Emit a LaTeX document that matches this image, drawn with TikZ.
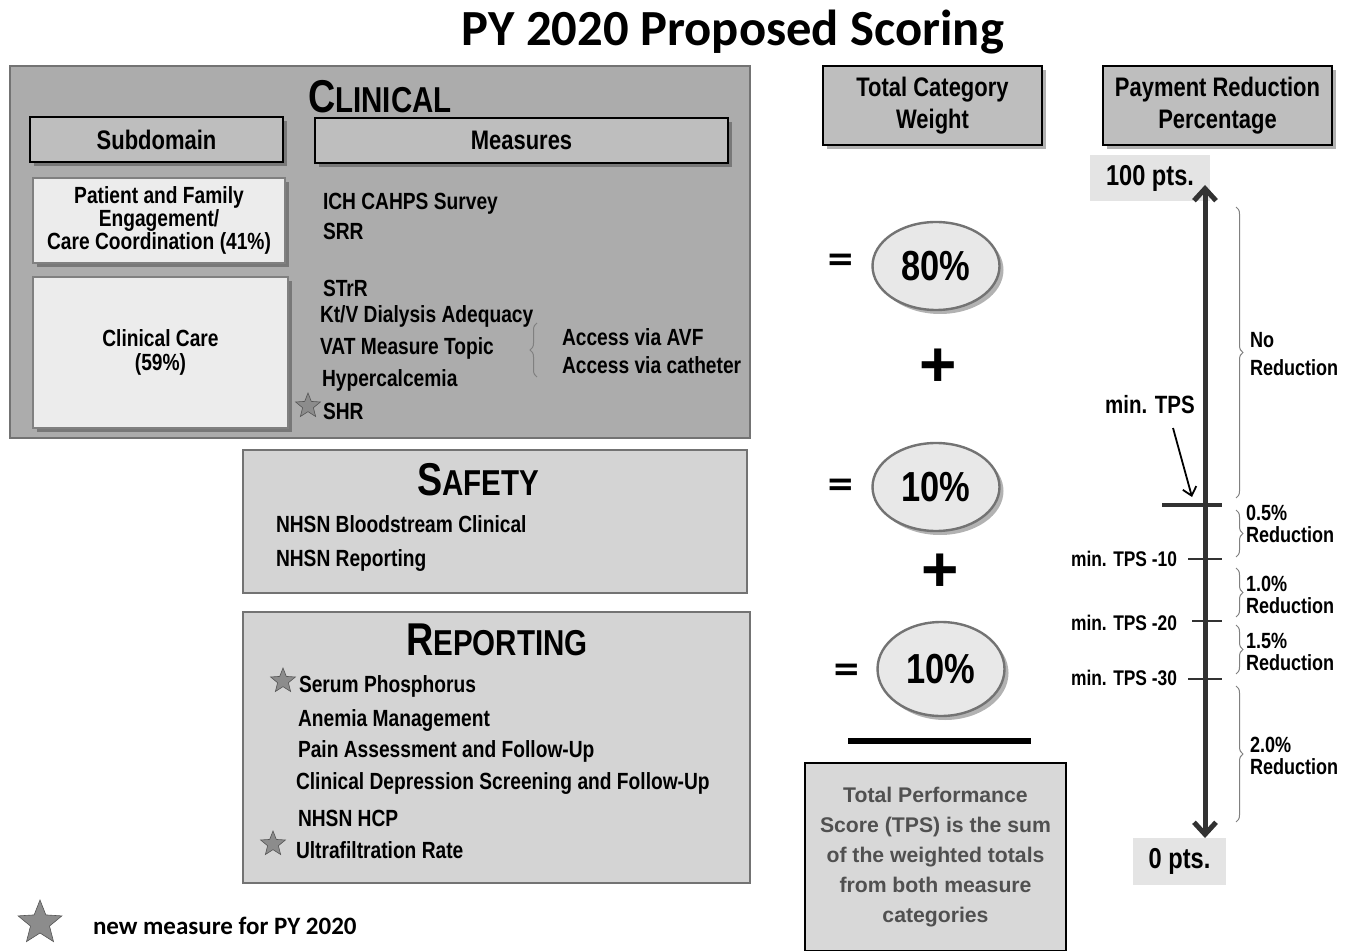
\documentclass[tikz,border=0pt]{standalone}
\usepackage{fontspec}
\setmainfont{Liberation Sans}[FakeStretch=0.82]
\newfontfamily\calfont{Carlito}
\newfontfamily\widefont{Liberation Sans}
\newfontfamily\eqfont{DejaVu Sans}
\usetikzlibrary{shapes.geometric,shadows,decorations.pathreplacing,arrows.meta,calc}
\definecolor{clinfill}{RGB}{172,172,172}
\definecolor{panfill}{RGB}{212,212,212}
\definecolor{hdrfill}{RGB}{190,190,190}
\definecolor{lightfill}{RGB}{236,236,236}
\definecolor{boxline}{RGB}{115,115,115}
\definecolor{ellfill}{RGB}{232,232,232}
\definecolor{tpsfill}{RGB}{216,216,216}
\definecolor{tpstext}{RGB}{80,80,80}
\definecolor{axisc}{RGB}{50,50,50}
\definecolor{stargray}{RGB}{140,140,140}
\definecolor{ptsbg}{RGB}{228,228,228}
\begin{document}
\begin{tikzpicture}[x=0.5pt,y=-0.5pt,
  every node/.style={inner sep=0pt,outer sep=0pt},
  shd/.style={drop shadow={shadow xshift=2pt,shadow yshift=-2pt,fill=black,opacity=0.3}},
  panel/.style={rectangle,draw=boxline,line width=0.8pt,fill=#1},
  hdr/.style={rectangle,draw=black,line width=1pt,fill=hdrfill,align=center,shd,
    font=\bfseries\fontsize{13.4}{16}\selectfont},
  subbox/.style={rectangle,draw=gray,line width=0.8pt,fill=lightfill,align=center,shd,
    font=\bfseries\fontsize{11.7}{11.6}\selectfont},
  item/.style={anchor=west,font=\bfseries\fontsize{11.7}{14}\selectfont},
  cattitle/.style={font=\bfseries},
  wt/.style={ellipse,draw=boxline,line width=1.2pt,fill=ellfill,shd,
    minimum width=63.5pt,minimum height=44pt,font=\bfseries\fontsize{21}{24}\selectfont},
  eq/.style={font=\eqfont\bfseries\fontsize{17}{20}\selectfont},
  plus/.style={font=\widefont\bfseries\fontsize{32}{34}\selectfont},
  axlab/.style={anchor=east,font=\bfseries\fontsize{10.6}{12}\selectfont},
  redlab/.style={anchor=west,align=left,font=\bfseries\fontsize{11}{11}\selectfont},
  pts/.style={fill=ptsbg,font=\bfseries\fontsize{14.4}{16}\selectfont},
  brc/.style={decorate,decoration={brace,amplitude=3.5pt},draw=gray,line width=0.5pt},
  starn/.style={star,star points=5,star point ratio=2.3,fill=stargray,draw=stargray!60!black,
    line width=0.3pt,minimum size=#1}
]
\useasboundingbox (0,0) rectangle (1358,951);

% title
\node[font=\calfont\bfseries\fontsize{25.3}{28}\selectfont] (title) at (733,32) {PY 2020 Proposed Scoring};

% ---------- Clinical ----------
\node[panel=clinfill,minimum width=370pt,minimum height=186pt] (clin) at (380,252) {};
\node[cattitle] (clintitle) at (380,97) {\fontsize{23}{26}\selectfont C\fontsize{18}{20}\selectfont LINICAL};
\node[hdr,minimum width=126.5pt,minimum height=22.5pt] (subhdr) at (156.5,139.5) {Subdomain};
\node[hdr,minimum width=206.5pt,minimum height=22.5pt] (meashdr) at (521.5,140.5) {Measures};
\node[subbox,minimum width=126pt,minimum height=42.5pt] (pfe) at (159,220.5)
  {Patient and Family\\Engagement/\\Care Coordination (41\%)};
\node[subbox,minimum width=127.5pt,minimum height=75.5pt] (care) at (160.5,352.5)
  {Clinical Care\\(59\%)};
\node[item] (m1) at (323,204) {ICH CAHPS Survey};
\node[item] (m2) at (323,231) {SRR};
\node[item] (m3) at (323,288) {STrR};
\node[item] (m4) at (320,316) {Kt/V Dialysis Adequacy};
\node[item] (m5) at (320,348) {VAT Measure Topic};
\node[item] (m6) at (322,380) {Hypercalcemia};
\node[item] (m7) at (323,411) {SHR};
\node[starn=13pt] (s1) at (308,406) {};
\coordinate (vb1) at (537,377);
\coordinate (vb2) at (537,323);
\draw[brc] (vb1) -- (vb2);
\node[item] (a1) at (562,337) {Access via AVF};
\node[item] (a2) at (562,365) {Access via catheter};

% ---------- Safety ----------
\node[panel=panfill,minimum width=252pt,minimum height=71.5pt] (safe) at (495,521.5) {};
\node[cattitle] (safetitle) at (478,480) {\fontsize{23}{26}\selectfont S\fontsize{18}{20}\selectfont AFETY};
\node[item] (sf1) at (276,524) {NHSN Bloodstream Clinical};
\node[item] (sf2) at (276,560) {NHSN Reporting};

% ---------- Reporting ----------
\node[panel=panfill,minimum width=253.5pt,minimum height=135.5pt] (rep) at (496.5,747.5) {};
\node[cattitle] (reptitle) at (497,640) {\fontsize{23}{26}\selectfont R\fontsize{18}{20}\selectfont EPORTING};
\node[starn=13pt] (s2) at (283,681) {};
\node[item] (r1) at (299,686) {Serum Phosphorus};
\node[item] (r2) at (298,720) {Anemia Management};
\node[item] (r3) at (298,751) {Pain Assessment and Follow-Up};
\node[item] (r4) at (296,783) {Clinical Depression Screening and Follow-Up};
\node[item] (r5) at (298,818) {NHSN HCP};
\node[starn=13pt] (s3) at (273,844) {};
\node[item] (r6) at (296,850) {Ultrafiltration Rate};

% legend
\node[starn=23pt] (s4) at (40,923) {};
\node[anchor=west,font=\calfont\bfseries\fontsize{12.5}{14}\selectfont] (leg) at (93,926) {new measure for PY 2020};

% ---------- Weights ----------
\node[hdr,minimum width=109.5pt,minimum height=39.5pt] (tcw) at (932.5,105.5) {Total Category\\Weight};
\node[eq] (e1) at (841,262) {=};
\node[wt] (w1) at (936,266) {80\%};
\node[plus] (p1) at (938,368) {+};
\node[eq] (e2) at (841,487) {=};
\node[wt] (w2) at (936,487) {10\%};
\node[plus] (p2) at (940,573) {+};
\node[eq] (e3) at (847,672) {=};
\node[wt,minimum height=47pt] (w3) at (941,669) {10\%};
\coordinate (bar1) at (848,741);
\coordinate (bar2) at (1031,741);
\draw[line width=2.6pt] (bar1) -- (bar2);
\node[rectangle,draw=black,line width=1pt,fill=tpsfill,minimum width=130.5pt,minimum height=94pt,
  align=center,text=tpstext,font=\widefont\bfseries\fontsize{10.6}{15}\selectfont] (tps) at (935.5,857)
  {Total Performance\\Score (TPS) is the sum\\of the weighted totals\\from both measure\\categories};

% ---------- Payment reduction ----------
\node[hdr,minimum width=114.5pt,minimum height=39.5pt] (prp) at (1217.5,105.5) {Payment Reduction\\Percentage};
\node[pts,minimum width=60pt,minimum height=23pt] (p100) at (1150,178) {100 pts.};
\node[pts,minimum width=46.5pt,minimum height=23.5pt] (p0) at (1179.5,861.5) {0 pts.};
\coordinate (axtop) at (1205,185);
\coordinate (axbot) at (1205,838);
\draw[line width=2.5pt,draw=axisc,{Straight Barb[length=6pt,width=11pt]}-{Straight Barb[length=6pt,width=11pt]}] (axbot) -- (axtop);
\coordinate (t0a) at (1162,505); \coordinate (t0b) at (1222,505);
\draw[line width=2.2pt,draw=axisc] (t0a) -- (t0b);
\coordinate (t1a) at (1188,559); \coordinate (t1b) at (1222,559);
\draw[line width=0.8pt,draw=axisc] (t1a) -- (t1b);
\coordinate (t2a) at (1192,621); \coordinate (t2b) at (1222,621);
\draw[line width=0.8pt,draw=axisc] (t2a) -- (t2b);
\coordinate (t3a) at (1188,679); \coordinate (t3b) at (1222,679);
\draw[line width=0.8pt,draw=axisc] (t3a) -- (t3b);
\node[axlab] (l10) at (1177,559) {min. TPS -10};
\node[axlab] (l20) at (1177,623) {min. TPS -20};
\node[axlab] (l30) at (1177,678) {min. TPS -30};
\node[font=\bfseries\fontsize{12.5}{14}\selectfont] (mintps) at (1150,405) {min. TPS};
\coordinate (mtstart) at (1173,428);
\coordinate (mtarrow) at (1192,497);
\draw[line width=0.9pt,-{Straight Barb[length=4pt,width=7pt]}] (mtstart) -- (mtarrow);

\coordinate (b1a) at (1236,207); \coordinate (b1b) at (1236,498);
\draw[brc] (b1a) -- (b1b);
\node[redlab] (nored) at (1250,354) {No\\[3pt]Reduction};
\coordinate (b2a) at (1236,510); \coordinate (b2b) at (1236,557);
\draw[brc] (b2a) -- (b2b);
\node[redlab] (red05) at (1246,524) {0.5\%\\Reduction};
\coordinate (b3a) at (1236,568); \coordinate (b3b) at (1236,617);
\draw[brc] (b3a) -- (b3b);
\node[redlab] (red10) at (1246,595) {1.0\%\\Reduction};
\coordinate (b4a) at (1236,625); \coordinate (b4b) at (1236,674);
\draw[brc] (b4a) -- (b4b);
\node[redlab] (red15) at (1246,652) {1.5\%\\Reduction};
\coordinate (b5a) at (1236,686); \coordinate (b5b) at (1236,822);
\draw[brc] (b5a) -- (b5b);
\node[redlab] (red20) at (1250,756) {2.0\%\\Reduction};
\end{tikzpicture}
\end{document}
